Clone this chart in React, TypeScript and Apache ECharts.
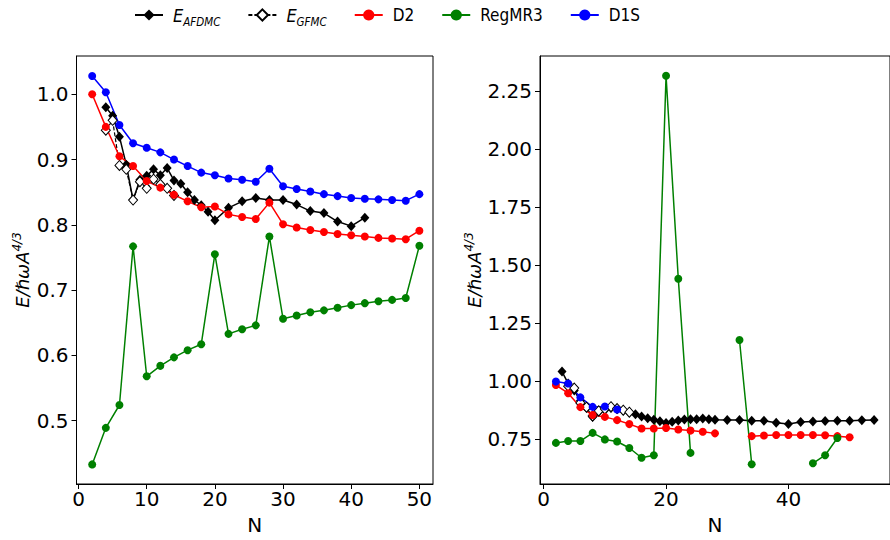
import React, { useEffect, useRef } from "react";
import * as echarts from "echarts";

// ---------- Left panel data ----------
const leftEvenN = [2, 4, 6, 8, 10, 12, 14, 16, 18, 20, 22, 24, 26, 28, 30, 32, 34, 36, 38, 40, 42, 44, 46, 48, 50];
const leftD1S = [1.028, 1.003, 0.953, 0.925, 0.918, 0.911, 0.9, 0.89, 0.88, 0.876, 0.871, 0.869, 0.866, 0.886, 0.859, 0.855, 0.851, 0.847, 0.844, 0.841, 0.84, 0.839, 0.838, 0.837, 0.847];
const leftD2 = [1.0, 0.95, 0.905, 0.89, 0.867, 0.857, 0.846, 0.836, 0.827, 0.828, 0.816, 0.812, 0.809, 0.834, 0.801, 0.796, 0.792, 0.789, 0.786, 0.784, 0.782, 0.78, 0.779, 0.778, 0.791];
const leftRegMR3 = [0.433, 0.489, 0.524, 0.767, 0.568, 0.584, 0.597, 0.608, 0.617, 0.755, 0.633, 0.64, 0.646, 0.782, 0.656, 0.661, 0.666, 0.669, 0.673, 0.677, 0.68, 0.683, 0.685, 0.688, 0.768];
const leftAfdmcN = [4, 5, 6, 7, 8, 9, 10, 11, 12, 13, 14, 15, 16, 17, 18, 19, 20, 22, 24, 26, 28, 30, 32, 34, 36, 38, 40, 42];
const leftAfdmc = [0.98, 0.967, 0.935, 0.892, 0.838, 0.869, 0.875, 0.885, 0.876, 0.887, 0.868, 0.863, 0.85, 0.838, 0.83, 0.82, 0.807, 0.826, 0.836, 0.841, 0.838, 0.838, 0.831, 0.821, 0.818, 0.805, 0.798, 0.811];
const leftGfmcN = [4, 5, 6, 7, 8, 9, 10, 11, 12, 13, 14];
const leftGfmc = [0.945, 0.96, 0.891, 0.885, 0.838, 0.866, 0.856, 0.87, 0.862, 0.856, 0.845];

// ---------- Right panel data ----------
const rightD1SN = [2, 4, 6, 8, 10, 12];
const rightD1S = [0.998, 0.99, 0.93, 0.889, 0.891, 0.878];
const rightD2N = [2, 4, 6, 8, 10, 12, 14, 16, 18, 20, 22, 24, 26, 28, 30, 32, 34, 36, 38, 40, 42, 44, 46, 48, 50];
const rightD2 = [0.983, 0.948, 0.888, 0.854, 0.846, 0.832, 0.815, 0.796, 0.796, 0.798, 0.792, 0.787, 0.782, 0.775, null, null, 0.763, 0.766, 0.768, 0.768, 0.768, 0.768, 0.767, 0.763, 0.758];
const rightRegN = [2, 4, 6, 8, 10, 12, 14, 16, 18, 20, 22, 24, 26, 28, 30, 32, 34, 36, 38, 40, 42, 44, 46, 48];
const rightReg = [0.734, 0.742, 0.742, 0.777, 0.749, 0.74, 0.712, 0.67, 0.681, 2.315, 1.441, 0.691, null, null, null, 1.177, 0.642, null, null, null, null, 0.646, 0.681, 0.755];
const rightAfdmcN = [3, 4, 5, 6, 7, 8, 9, 10, 11, 12, 13, 14, 15, 16, 17, 18, 19, 20, 21, 22, 23, 24, 25, 26, 27, 28, 30, 32, 34, 36, 38, 40, 42, 44, 46, 48, 50, 52, 54];
const rightAfdmc = [1.041, 0.99, 0.96, 0.915, 0.885, 0.845, 0.868, 0.876, 0.884, 0.88, 0.874, 0.866, 0.857, 0.848, 0.84, 0.834, 0.827, 0.82, 0.825, 0.83, 0.835, 0.836, 0.836, 0.839, 0.836, 0.834, 0.833, 0.833, 0.829, 0.829, 0.821, 0.815, 0.824, 0.826, 0.828, 0.829, 0.829, 0.831, 0.833];
const rightGfmcN = [4, 5, 6, 7, 8, 9, 10, 11, 12, 13, 14];
const rightGfmc = [0.978, 0.97, 0.906, 0.888, 0.85, 0.872, 0.88, 0.89, 0.882, 0.875, 0.866];

// ---------- Ticks ----------
const leftXTicks = [0, 10, 20, 30, 40, 50];
const leftYTicks = [0.5, 0.6, 0.7, 0.8, 0.9, 1.0];
const rightXTicks = [0, 20, 40];
const rightYTicks = [0.75, 1.0, 1.25, 1.5, 1.75, 2.0, 2.25];

const seriesNames = ["AFDMC", "GFMC", "D2", "RegMR3", "D1S"];

const pairs = (xs: number[], ys: (number | null)[]) =>
  xs.map((x, i) => [x, ys[i] === null ? "-" : ys[i]]);

const FONT = "DejaVu Sans";
const LEG_FONT = "DejaVu Sans Condensed";

function makeXAxis(gridIndex: number, min: number, max: number, ticks: number[]) {
  return {
    type: "value",
    gridIndex,
    min,
    max,
    axisLine: { show: true, onZero: false, lineStyle: { color: "#000", width: 1 } },
    axisTick: { show: true, length: 5, lineStyle: { color: "#000", width: 1 }, customValues: ticks },
    axisLabel: { customValues: ticks, fontFamily: FONT, fontSize: 20, color: "#000", margin: 5 },
    splitLine: { show: false },
    name: "N",
    nameLocation: "middle",
    nameGap: 31,
    nameTextStyle: { fontFamily: FONT, fontSize: 20, color: "#000", verticalAlign: "top" },
  };
}

function makeYAxis(gridIndex: number, min: number, max: number, ticks: number[], digits: number) {
  return {
    type: "value",
    gridIndex,
    min,
    max,
    axisLine: { show: true, onZero: false, lineStyle: { color: "#000", width: 1 } },
    axisTick: { show: true, length: 5, lineStyle: { color: "#000", width: 1 }, customValues: ticks },
    axisLabel: {
      customValues: ticks,
      fontFamily: FONT,
      fontSize: 20,
      color: "#000",
      margin: 8,
      formatter: (v: number) => v.toFixed(digits),
    },
    splitLine: { show: false },
    name: "{i|E/ℏωA}{s|4/3}",
    nameLocation: "middle",
    nameRotate: 90,
    nameGap: digits === 1 ? 42 : 50,
    nameTextStyle: {
      color: "#000",
      rich: {
        i: { fontFamily: FONT, fontSize: 18, fontStyle: "italic", color: "#000", lineHeight: 24 },
        s: { fontFamily: FONT, fontSize: 12, fontStyle: "italic", color: "#000", verticalAlign: "top", lineHeight: 14 },
      },
    },
  };
}

function lineSeries(name: string, axis: number, xs: number[], ys: (number | null)[]) {
  const base: any = {
    name,
    type: "line",
    xAxisIndex: axis,
    yAxisIndex: axis,
    data: pairs(xs, ys),
    showAllSymbol: true,
    connectNulls: false,
    z: 2,
  };
  if (name === "AFDMC") {
    return {
      ...base,
      symbol: "diamond",
      symbolSize: [9, 10],
      itemStyle: { color: "#000" },
      lineStyle: { color: "#000", width: 1.5 },
    };
  }
  if (name === "GFMC") {
    return {
      ...base,
      symbol: "diamond",
      symbolSize: [9, 10],
      itemStyle: { color: "#fff", borderColor: "#000", borderWidth: 1 },
      lineStyle: { color: "#000", width: 1.2, type: [4, 2] },
    };
  }
  const color = name === "D2" ? "#ff0000" : name === "RegMR3" ? "#008000" : "#0000ff";
  return {
    ...base,
    symbol: "circle",
    symbolSize: 8,
    itemStyle: { color },
    lineStyle: { color, width: 1.5 },
  };
}

export default function App() {
  const ref = useRef<HTMLDivElement>(null);
  useEffect(() => {
    const chart = echarts.init(ref.current!, null, { renderer: "svg" });
    const option: any = {
      animation: false,
      backgroundColor: "#fff",
      legend: {
        left: 129,
        top: 1,
        itemWidth: 28,
        itemHeight: 14,
        itemGap: 27,
        data: seriesNames,
        formatter: (name: string) =>
          name === "AFDMC" ? "{e|E}{sub|AFDMC}" : name === "GFMC" ? "{e|E}{sub|GFMC}" : name,
        textStyle: {
          fontFamily: LEG_FONT,
          fontSize: 17,
          color: "#000",
          padding: [0, 0, 0, 5],
          rich: {
            e: { fontFamily: LEG_FONT, fontSize: 18, fontStyle: "italic", color: "#000", lineHeight: 26 },
            sub: { fontFamily: LEG_FONT, fontSize: 11.5, fontStyle: "italic", color: "#000", verticalAlign: "bottom", lineHeight: 14 },
          },
        },
      },
      grid: [
        { left: 76.5, top: 56, width: 356.5, height: 436.5, show: true, borderColor: "#000", borderWidth: 1, backgroundColor: "transparent" },
        { left: 540, top: 56, width: 358, height: 436.5, show: true, borderColor: "#000", borderWidth: 1, backgroundColor: "transparent" },
      ],
      xAxis: [makeXAxis(0, -0.3, 52, leftXTicks), makeXAxis(1, -0.6, 56.6, rightXTicks)],
      yAxis: [makeYAxis(0, 0.403, 1.0586, leftYTicks, 1), makeYAxis(1, 0.557, 2.4, rightYTicks, 2)],
      series: [
        lineSeries("AFDMC", 0, leftAfdmcN, leftAfdmc),
        lineSeries("GFMC", 0, leftGfmcN, leftGfmc),
        lineSeries("D2", 0, leftEvenN, leftD2),
        lineSeries("RegMR3", 0, leftEvenN, leftRegMR3),
        lineSeries("D1S", 0, leftEvenN, leftD1S),
        lineSeries("AFDMC", 1, rightAfdmcN, rightAfdmc),
        lineSeries("GFMC", 1, rightGfmcN, rightGfmc),
        lineSeries("D2", 1, rightD2N, rightD2),
        lineSeries("RegMR3", 1, rightRegN, rightReg),
        lineSeries("D1S", 1, rightD1SN, rightD1S),
      ],
    };
    chart.setOption(option);
    return () => chart.dispose();
  }, []);
  return <div ref={ref} style={{ position: "fixed", left: 0, top: 0, width: 890, height: 540 }} />;
}
